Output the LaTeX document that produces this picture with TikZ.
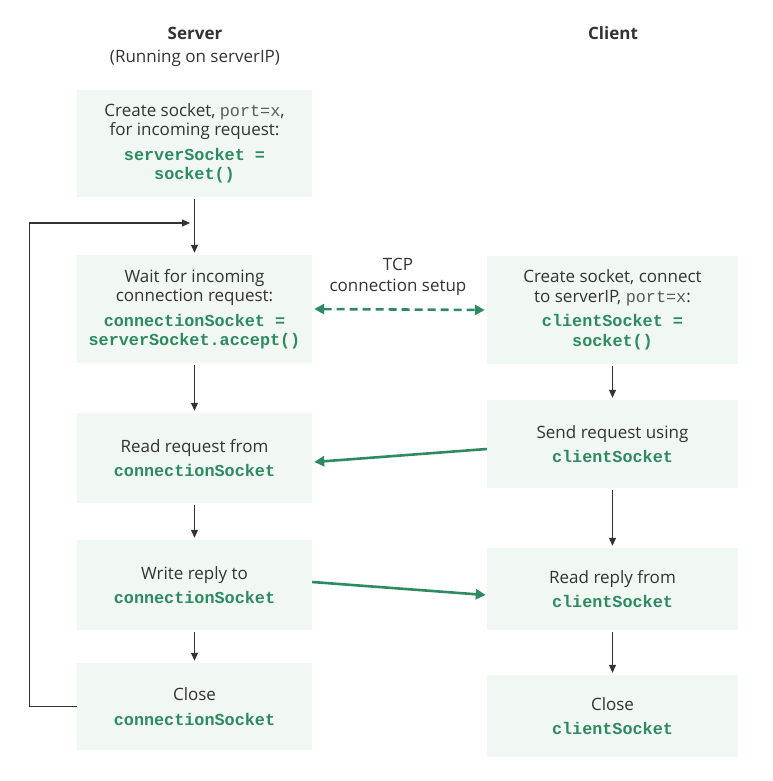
\documentclass[tikz,border=0pt]{standalone}
\usepackage{fontspec}
\setmainfont{Open Sans}
\setmonofont{Liberation Mono}
\usetikzlibrary{arrows.meta}
\definecolor{sockgreen}{RGB}{46,138,96}
\definecolor{boxfill}{RGB}{241,248,243}
\definecolor{inkgray}{RGB}{51,51,51}
\newcommand{\code}[1]{{\fontsize{16.8}{20.5}\selectfont\ttfamily\bfseries\color{sockgreen}#1}}
\newcommand{\plain}[1]{{\fontsize{16.8}{19.5}\selectfont\ttfamily\color{inkgray!80}#1}}

\begin{document}
\begin{tikzpicture}[x=1pt,y=-1pt,
  stepbox/.style={fill=boxfill, inner sep=0pt, align=center, text=inkgray,
                  font=\fontsize{17}{19.5}\selectfont},
  flow/.style={draw=inkgray, line width=1.1pt, shorten <=2pt, shorten >=2pt,
               -{Triangle[length=8pt,width=7pt]}},
  msg/.style={draw=sockgreen, line width=2.6pt,
              -{Triangle[length=10pt,width=10pt]}}]
  \useasboundingbox (0,0) rectangle (772,781);

  % column headings
  \node[text=inkgray, font=\fontsize{17}{20}\selectfont\bfseries] (srvhead) at (195,33) {Server};
  \node[text=inkgray, font=\fontsize{17}{20}\selectfont] (srvip) at (195,58) {(Running on serverIP)};
  \node[text=inkgray, font=\fontsize{17}{20}\selectfont\bfseries] (clihead) at (613,33) {Client};

  % server side
  \node[stepbox, minimum width=235pt, minimum height=107pt] (create) at (194.5,143.5)
    {Create socket, \plain{port=x},\\ for incoming request:\\[5pt]
     \code{serverSocket =}\\ \code{socket()}};
  \node[stepbox, minimum width=235pt, minimum height=108pt] (wait) at (194.5,309)
    {Wait for incoming\\ connection request:\\[5pt]
     \code{connectionSocket =}\\ \code{serverSocket.accept()}};
  \node[stepbox, minimum width=235pt, minimum height=90pt] (read) at (194.5,458)
    {Read request from\\[5pt] \code{connectionSocket}};
  \node[stepbox, minimum width=235pt, minimum height=90pt] (write) at (194.5,585)
    {Write reply to\\[5pt] \code{connectionSocket}};
  \node[stepbox, minimum width=235pt, minimum height=87pt] (close) at (194.5,706.5)
    {Close\\[5pt] \code{connectionSocket}};

  % client side
  \node[stepbox, minimum width=251pt, minimum height=108pt] (connect) at (612.5,310)
    {Create socket, connect\\ to serverIP, \plain{port=x}:\\[5pt]
     \code{clientSocket =}\\ \code{socket()}};
  \node[stepbox, minimum width=251pt, minimum height=88pt] (send) at (612.5,444)
    {Send request using\\[5pt] \code{clientSocket}};
  \node[stepbox, minimum width=251pt, minimum height=82pt] (reply) at (612.5,589)
    {Read reply from\\[5pt] \code{clientSocket}};
  \node[stepbox, minimum width=251pt, minimum height=82pt] (cclose) at (612.5,716)
    {Close\\[5pt] \code{clientSocket}};

  % order of the steps
  \draw[flow] (create) -- (wait);
  \draw[flow] (wait) -- (read);
  \draw[flow] (read) -- (write);
  \draw[flow] (write) -- (close);
  \draw[flow] (connect) -- (send);
  \draw[flow] (send) -- (reply);
  \draw[flow] (reply) -- (cclose);

  % back to waiting after each client
  \coordinate (join) at (192,223);
  \draw[flow, shorten <=0pt] (close.west) -- ++(-47,0) |- (join);

  % messages between the two hosts
  \node[text=inkgray, align=center, font=\fontsize{17}{21}\selectfont] (tcp) at (398,277)
    {TCP\\ connection setup};
  \draw[msg, dash pattern=on 8pt off 5pt,
        {Triangle[length=10pt,width=10pt]}-{Triangle[length=10pt,width=10pt]}]
    ([xshift=2pt]wait.east) -- ([xshift=-2pt]connect.west);
  \draw[msg] ([yshift=-5pt]send.west) -- ([xshift=2pt,yshift=-4pt]read.east);
  \draw[msg] ([yshift=3pt]write.east) -- ([xshift=-1pt,yshift=-6pt]reply.west);
\end{tikzpicture}
\end{document}
